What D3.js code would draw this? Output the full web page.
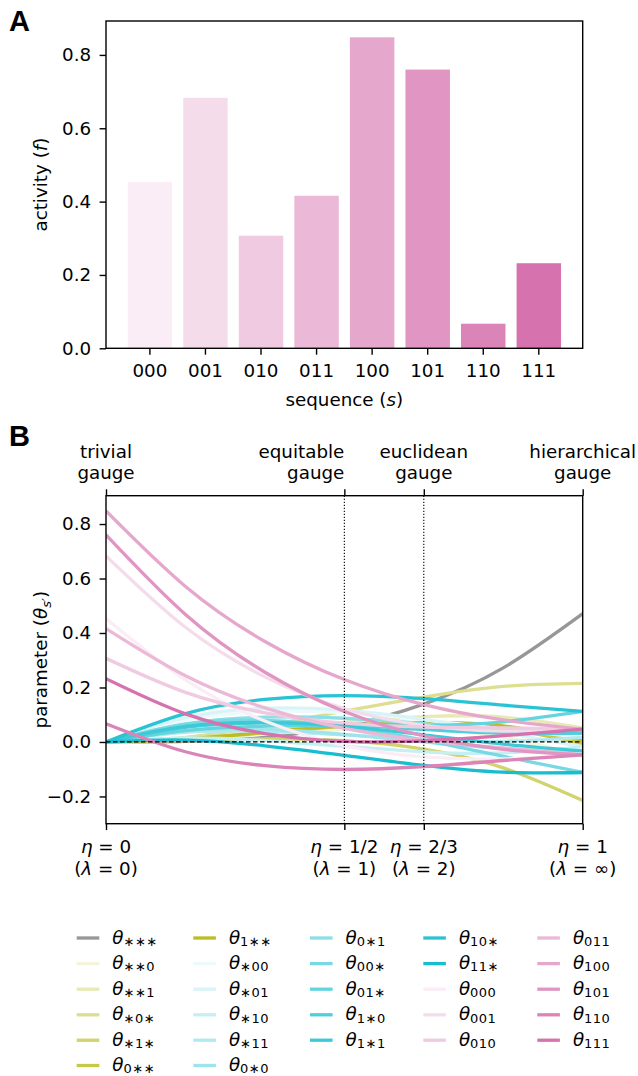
<!DOCTYPE html>
<html>
<head>
<meta charset="utf-8">
<script src="https://cdn.jsdelivr.net/npm/d3@7"></script>
<style>
body { margin: 0; background: #fff; }
svg text { font-family: "DejaVu Sans", sans-serif; fill: #000; }
</style>
</head>
<body>
<svg id="chart" width="638" height="1076"></svg>
<script>
// ---- data ----
var sequences = ["000", "001", "010", "011", "100", "101", "110", "111"];
var activity = [0.453, 0.683, 0.307, 0.416, 0.848, 0.760, 0.067, 0.232];

// gauge parameter eta at which curves were read
var etaSamples = [0, 1 / 6, 1 / 3, 1 / 2, 2 / 3, 5 / 6, 1];

var order0Names = ["***"];
var order0Values = [
    [0, 0.002, 0.017, 0.059, 0.139, 0.272, 0.471]
];

var order1Names = ["**0", "**1", "*0*", "*1*", "0**", "1**"];
var order1Values = [
    [0, 0.009, 0.029, 0.046, 0.047, 0.018, -0.052],
    [0, 0.012, 0.041, 0.072, 0.093, 0.091, 0.052],
    [0, 0.017, 0.059, 0.113, 0.165, 0.204, 0.215],
    [0, 0.005, 0.011, 0.005, -0.026, -0.095, -0.215],
    [0, 0.011, 0.034, 0.057, 0.067, 0.050, -0.006],
    [0, 0.011, 0.036, 0.060, 0.072, 0.059, 0.006]
];

var order2Names = ["*00", "*01", "*10", "*11", "0*0", "0*1", "00*", "01*", "1*0", "1*1", "10*", "11*"];
var order2Values = [
    [0, 0.080, 0.112, 0.108, 0.082, 0.047, 0.017],
    [0, 0.089, 0.124, 0.117, 0.083, 0.034, -0.017],
    [0, 0.015, 0.005, -0.016, -0.036, -0.040, -0.017],
    [0, 0.035, 0.039, 0.026, 0.010, 0.002, 0.017],
    [0, 0.041, 0.046, 0.028, 0.000, -0.024, -0.033],
    [0, 0.066, 0.091, 0.087, 0.067, 0.045, 0.033],
    [0, 0.065, 0.079, 0.055, 0.007, -0.053, -0.112],
    [0, 0.042, 0.058, 0.060, 0.060, 0.074, 0.112],
    [0, 0.054, 0.070, 0.064, 0.046, 0.032, 0.033],
    [0, 0.057, 0.072, 0.057, 0.026, -0.008, -0.033],
    [0, 0.104, 0.156, 0.170, 0.159, 0.135, 0.112],
    [0, 0.007, -0.014, -0.049, -0.086, -0.111, -0.112]
];

var order3Names = ["000", "001", "010", "011", "100", "101", "110", "111"];
var order3Values = [
    [0.453, 0.228, 0.077, -0.013, -0.055, -0.062, -0.047],
    [0.683, 0.421, 0.239, 0.123, 0.061, 0.040, 0.047],
    [0.307, 0.182, 0.107, 0.069, 0.055, 0.052, 0.047],
    [0.416, 0.243, 0.125, 0.050, 0.006, -0.022, -0.047],
    [0.848, 0.571, 0.369, 0.229, 0.137, 0.081, 0.047],
    [0.760, 0.468, 0.256, 0.112, 0.022, -0.027, -0.047],
    [0.067, -0.036, -0.087, -0.101, -0.090, -0.068, -0.047],
    [0.232, 0.103, 0.031, 0.002, 0.004, 0.023, 0.047]
];

var gaugeEta = [0, 1 / 2, 2 / 3, 1];
var gaugeNames = [["trivial", "gauge"], ["equitable", "gauge"], ["euclidean", "gauge"], ["hierarchical", "gauge"]];
var etaLabels = ["0", "1/2", "2/3", "1"];
var lambdaLabels = ["0", "1", "2", "∞"];
var yTicksA = [0, 0.2, 0.4, 0.6, 0.8];
var yTicksB = [-0.2, 0, 0.2, 0.4, 0.6, 0.8];

// ---- colours ----
var grayColor = "#979797";
var oliveBase = "#bcbd22";
var cyanBase = "#17becf";
var pinkBase = "#d672ae";

var fontSize = "18.3px";

function shade(base, t) {
    return d3.interpolateRgb("#ffffff", base)(t);
}

var svg = d3.select("#chart");

// ---- Panel A ----
var xA = d3.scaleBand().domain(sequences).range([106, 582.7]).paddingInner(0.2).paddingOuter(0.39);
var yA = d3.scaleLinear().domain([0, 0.8925]).range([348.3, 21]);

svg.append("g")
    .selectAll("rect")
    .data(activity)
    .join("rect")
    .attr("x", (d, i) => xA(sequences[i]))
    .attr("width", xA.bandwidth())
    .attr("y", d => yA(d))
    .attr("height", d => yA(0) - yA(d))
    .attr("fill", (d, i) => shade(pinkBase, (i + 1) / sequences.length));

svg.append("g").attr("transform", "translate(0,348.3)")
    .call(d3.axisBottom(xA).tickSize(6.4).tickPadding(9));
svg.append("g").attr("transform", "translate(106,0)")
    .call(d3.axisLeft(yA).tickValues(yTicksA).tickFormat(d3.format(".1f")).tickSize(6.4).tickPadding(8.5));

svg.append("rect")
    .attr("x", 106).attr("y", 21)
    .attr("width", 582.7 - 106).attr("height", 348.3 - 21)
    .attr("fill", "none").attr("stroke", "#000").attr("stroke-width", 1.4);

var labA = svg.append("text").attr("x", 344.3).attr("y", 406).attr("text-anchor", "middle").style("font-size", fontSize);
labA.append("tspan").text("sequence (");
labA.append("tspan").style("font-style", "italic").text("s");
labA.append("tspan").text(")");

var ylabA = svg.append("text").attr("transform", "translate(47,184.6) rotate(-90)").attr("text-anchor", "middle").style("font-size", fontSize);
ylabA.append("tspan").text("activity (");
ylabA.append("tspan").style("font-style", "italic").text("f");
ylabA.append("tspan").text(")");

svg.append("text").attr("x", 9).attr("y", 31)
    .style("font-family", "'Liberation Sans', Arial, sans-serif")
    .style("font-weight", "bold").style("font-size", "29px").text("A");

// ---- Panel B ----
var xB = d3.scaleLinear().domain([0, 1]).range([106, 582.7]);
var yB = d3.scaleLinear().domain([-0.3, 0.904]).range([823.7, 495.7]);

svg.append("defs").append("clipPath").attr("id", "clipB")
    .append("rect").attr("x", 106).attr("y", 495.7).attr("width", 582.7 - 106).attr("height", 823.7 - 495.7);

var allNames = order0Names.concat(order1Names, order2Names, order3Names);
var allValues = order0Values.concat(order1Values, order2Values, order3Values);
var allColors = [grayColor]
    .concat(order1Names.map((d, i) => shade(oliveBase, (i + 1) / order1Names.length)))
    .concat(order2Names.map((d, i) => shade(cyanBase, (i + 1) / order2Names.length)))
    .concat(order3Names.map((d, i) => shade(pinkBase, (i + 1) / order3Names.length)));

var curve = d3.line()
    .x((d, i) => xB(etaSamples[i]))
    .y(d => yB(d))
    .curve(d3.curveNatural);

var plotB = svg.append("g").attr("clip-path", "url(#clipB)");

plotB.selectAll("path.param")
    .data(allValues)
    .join("path")
    .attr("class", "param")
    .attr("d", d => curve(d))
    .attr("fill", "none")
    .attr("stroke", (d, i) => allColors[i])
    .attr("stroke-width", 3.3);

// zero line
plotB.append("line")
    .attr("x1", xB(0)).attr("x2", xB(1))
    .attr("y1", yB(0)).attr("y2", yB(0))
    .attr("stroke", "#000").attr("stroke-width", 1.2).attr("stroke-dasharray", "4.5,2.5");

// gauge lines
plotB.selectAll("line.gauge")
    .data(gaugeEta.slice(1, 3))
    .join("line")
    .attr("class", "gauge")
    .attr("x1", d => xB(d)).attr("x2", d => xB(d))
    .attr("y1", 495.7).attr("y2", 823.7)
    .attr("stroke", "#000").attr("stroke-width", 1.1).attr("stroke-dasharray", "1.2,1.8");

svg.append("g").attr("transform", "translate(106,0)")
    .call(d3.axisLeft(yB).tickValues(yTicksB).tickFormat(d3.format(".1f")).tickSize(6.4).tickPadding(8.5));
svg.append("g").attr("transform", "translate(0,495.7)")
    .call(d3.axisTop(xB).tickValues(gaugeEta).tickFormat("").tickSize(6.4));
svg.append("g").attr("transform", "translate(0,823.7)")
    .call(d3.axisBottom(xB).tickValues(gaugeEta).tickFormat("").tickSize(6.4));

svg.append("rect")
    .attr("x", 106).attr("y", 495.7)
    .attr("width", 582.7 - 106).attr("height", 823.7 - 495.7)
    .attr("fill", "none").attr("stroke", "#000").attr("stroke-width", 1.4);

// top gauge labels
var anchors = ["middle", "end", "middle", "middle"];
gaugeNames.forEach(function (lines, i) {
    var t = svg.append("text")
        .attr("text-anchor", anchors[i])
        .style("font-size", fontSize);
    lines.forEach(function (ln, j) {
        t.append("tspan").attr("x", xB(gaugeEta[i])).attr("y", 458 + j * 20.5).text(ln);
    });
});

// bottom eta / lambda labels
etaLabels.forEach(function (lab, i) {
    var t1 = svg.append("text").attr("x", xB(gaugeEta[i])).attr("y", 853)
        .attr("text-anchor", "middle").style("font-size", fontSize);
    t1.append("tspan").style("font-style", "italic").text("η");
    t1.append("tspan").text(" = " + lab);
    var t2 = svg.append("text").attr("x", xB(gaugeEta[i])).attr("y", 875)
        .attr("text-anchor", "middle").style("font-size", fontSize);
    t2.append("tspan").text("(");
    t2.append("tspan").style("font-style", "italic").text("λ");
    t2.append("tspan").text(" = " + lambdaLabels[i] + ")");
});

var ylabB = svg.append("text").attr("transform", "translate(47,659.7) rotate(-90)").attr("text-anchor", "middle").style("font-size", fontSize);
ylabB.append("tspan").text("parameter (");
ylabB.append("tspan").style("font-style", "italic").text("θ");
ylabB.append("tspan").style("font-style", "italic").style("font-size", "13px").attr("dy", 4).text("s′");
ylabB.append("tspan").attr("dy", -4).text(")");

svg.append("text").attr("x", 9).attr("y", 446)
    .style("font-family", "'Liberation Sans', Arial, sans-serif")
    .style("font-weight", "bold").style("font-size", "29px").text("B");

// tick styling
svg.selectAll(".tick line").attr("stroke", "#000").attr("stroke-width", 1.4);
svg.selectAll(".tick text").style("font-size", fontSize).attr("fill", "#000");
svg.selectAll(".domain").remove();

// ---- legend ----
var legendColX = [76.7, 193.3, 310, 423.3, 537.3];
var legendRowY = [938, 963.6, 989.2, 1014.8, 1040.2, 1065.5];

var legend = svg.append("g");
allNames.forEach(function (name, k) {
    var col, row;
    if (k < 12) { col = Math.floor(k / 6); row = k % 6; }
    else { col = 2 + Math.floor((k - 12) / 5); row = (k - 12) % 5; }
    var x = legendColX[col], y = legendRowY[row];
    legend.append("line")
        .attr("x1", x).attr("x2", x + 22.6)
        .attr("y1", y).attr("y2", y)
        .attr("stroke", allColors[k]).attr("stroke-width", 3.3);
    var t = legend.append("text").attr("x", x + 35.6).attr("y", y + 5.5).style("font-size", fontSize);
    t.append("tspan").style("font-style", "italic").text("θ");
    t.append("tspan").attr("dy", 2.2).style("font-size", "13px")
        .style("letter-spacing", "0.5px")
        .text(name.replace(/\*/g, "∗"));
});
</script>
</body>
</html>
